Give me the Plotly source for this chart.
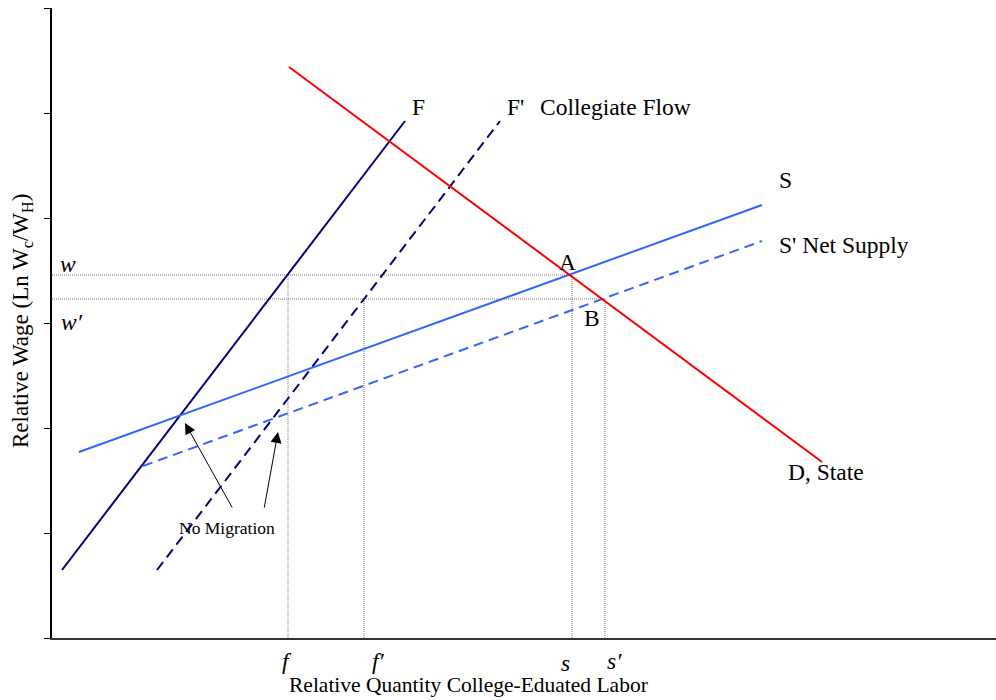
import plotly.graph_objects as go

# Diagram units: x = relative quantity, y = relative wage
F_x = [10, 353]
F_y = [68, 517]
Fp_x = [105, 448]
Fp_y = [68, 517]
S_x = [27, 710]
S_y = [186, 433]
Sp_x = [91, 710]
Sp_y = [172, 397]
D_x = [237, 770]
D_y = [571, 176]

w_val = 363
wp_val = 339
f_val = 236
fp_val = 312
s_val = 520
sp_val = 553

y_ticks = [0, 105, 210, 315, 420, 525, 630]

X_MAX = 944
Y_MAX = 630

FONT = "Liberation Serif, Times New Roman, serif"
NAVY = "#000080"
BLUE = "#3366FF"
RED = "#FF0000"
DOT = "#777777"

fig = go.Figure()

def line(x, y, color, dash="solid", width=2):
    fig.add_trace(go.Scatter(x=x, y=y, mode="lines", showlegend=False, hoverinfo="skip",
                             line=dict(color=color, width=width, dash=dash)))

# dotted guide lines
line([0, s_val], [w_val, w_val], DOT, "1px,1px", 1)
line([0, sp_val], [wp_val, wp_val], DOT, "1px,1px", 1)
line([s_val, s_val], [0, w_val], DOT, "1px,1px", 1)
line([sp_val, sp_val], [0, wp_val], DOT, "1px,1px", 1)
line([f_val, f_val], [0, w_val], DOT, "1px,1px", 1)
line([fp_val, fp_val], [0, wp_val], DOT, "1px,1px", 1)

line(F_x, F_y, NAVY)
line(Fp_x, Fp_y, NAVY, "10px,6px")
line(S_x, S_y, BLUE)
line(Sp_x, Sp_y, BLUE, "10px,6px")
line(D_x, D_y, RED)

def label(x, y, text, size=23.5, xanchor="center", angle=0):
    # paper coordinates so labels outside the axis range are still drawn
    fig.add_annotation(x=x / X_MAX, y=y / Y_MAX, xref="paper", yref="paper", text=text,
                       showarrow=False, xanchor=xanchor, yanchor="middle", textangle=angle,
                       font=dict(family=FONT, size=size, color="black"))

label(366, 531, "F")
label(463, 531, "F'")
label(486, 531, "Collegiate Flow", xanchor="left")
label(733, 458, "S")
label(725, 393, "S' Net Supply", xanchor="left")
label(734, 166, "D, State", xanchor="left")
label(515, 376, "A")
label(540, 320, "B")
label(16, 374, "<i>w</i>")
label(20, 316, "<i>w′</i>")
label(235, -23, "<i>f</i>")
label(326, -23, "<i>f′</i>")
label(513, -25, "<i>s</i>")
label(562, -23, "<i>s′</i>")
label(175, 110, "No Migration", size=17.5)
label(416, -47, "Relative Quantity College-Eduated Labor", size=21.5)
label(-30, 317, "Relative Wage (Ln W<sub>c</sub>/W<sub>H</sub>)", size=23, angle=-90)

# arrows
for (hx, hy, tx, ty) in [(133, 215, 181, 129), (226, 206, 212, 129)]:
    fig.add_annotation(x=hx, y=hy, ax=tx, ay=ty, xref="x", yref="y", axref="x", ayref="y",
                       text="", showarrow=True, arrowhead=2, arrowsize=2.2, arrowwidth=1,
                       arrowcolor="black")

fig.update_xaxes(range=[0, X_MAX], showgrid=False, zeroline=False, showline=True,
                 linecolor="#333333", linewidth=2, showticklabels=False, ticks="")
fig.update_yaxes(range=[0, Y_MAX], showgrid=False, zeroline=False, showline=True,
                 linecolor="black", linewidth=2, showticklabels=False,
                 ticks="outside", tickvals=y_ticks, ticklen=6, tickcolor="black", tickwidth=1)

fig.update_layout(width=996, height=700, margin=dict(l=52, r=0, t=8, b=62),
                  plot_bgcolor="white", paper_bgcolor="white")

fig.write_html("out.html", config={"displayModeBar": False},
               post_script="document.body.style.margin='0';document.body.style.overflow='hidden';")
